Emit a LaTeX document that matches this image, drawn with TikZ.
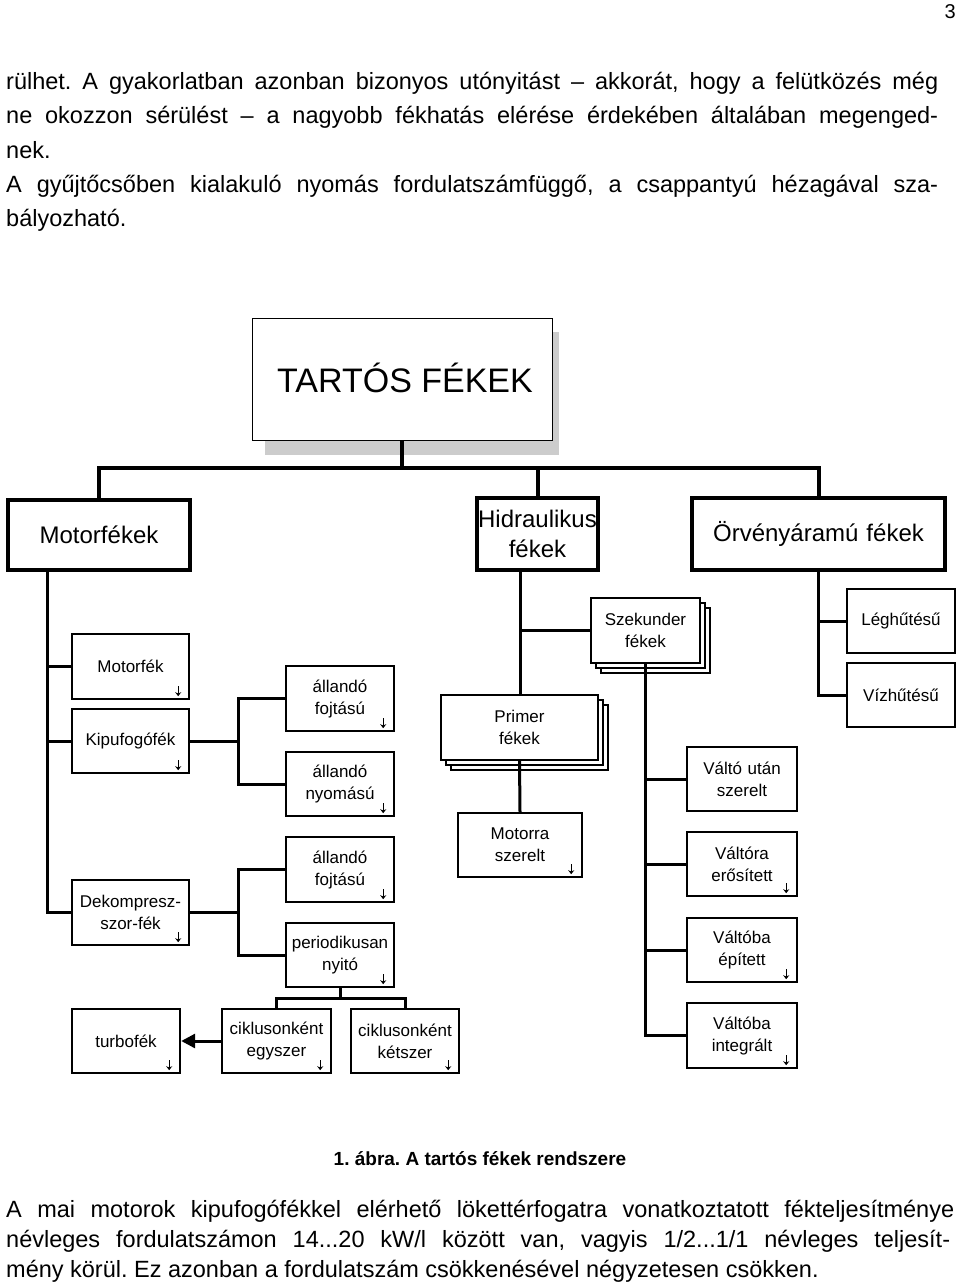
\documentclass[tikz,border=0pt]{standalone}
\usepackage{fontspec}
\setmainfont{Liberation Sans}
\usetikzlibrary{arrows.meta,calc}
\begin{document}
\frenchspacing
\begin{tikzpicture}[x=1pt,y=-1pt,
  box/.style={draw,line width=2.4pt,fill=white,align=center,inner sep=0pt,font=\fontsize{17}{22}\selectfont},
  lbox/.style={box,line width=4pt,font=\fontsize{24}{30}\selectfont},
  con/.style={line width=3pt},
  tcon/.style={line width=4pt},
  body/.style={anchor=west,inner sep=0pt,font=\fontsize{23.5}{26}\selectfont}]
\useasboundingbox (0,0) rectangle (960,1284);
\newcommand\bx[6]{\node[box,minimum width={#4-#2},minimum height={#5-#3},text width={#4-#2-4}] (#1) at ({(#2+#4)/2},{(#3+#5)/2}) {#6};}
\newcommand\lbx[6]{\node[lbox,minimum width={#4-#2},minimum height={#5-#3},text width={#4-#2}] (#1) at ({(#2+#4)/2},{(#3+#5)/2}) {#6};}
\newcommand\darr[1]{\draw[-{Stealth[length=4pt,width=6pt]},line width=1.2pt] ([xshift=-12pt,yshift=14pt]#1.south east) -- ([xshift=-12pt,yshift=4pt]#1.south east);}
\newcommand\stk[4]{\draw[line width=2.4pt,fill=white] (#1+10,#2+10) rectangle (#3+10,#4+10); \draw[line width=2.4pt,fill=white] (#1+5,#2+5) rectangle (#3+5,#4+5);}
% page text
\node[anchor=north east,inner sep=0pt,font=\fontsize{20}{24}\selectfont] (pg) at (956,4) {3};
\node[body] (t1) at (6,83) {\makebox[932pt][s]{rülhet. A gyakorlatban azonban bizonyos utónyitást – akkorát, hogy a felütközés még}};
\node[body] (t2) at (6,117) {\makebox[932pt][s]{ne okozzon sérülést – a nagyobb fékhatás elérése érdekében általában megenged-}};
\node[body] (t3) at (6,150) {nek.};
\node[body] (t4) at (6,186) {\makebox[932pt][s]{A gyűjtőcsőben kialakuló nyomás fordulatszámfüggő, a csappantyú hézagával sza-}};
\node[body] (t5) at (6,220) {bályozható.};
\node[inner sep=0pt,font=\bfseries\fontsize{19}{22}\selectfont] (cap) at (480,1159) {1. ábra. A tartós fékek rendszere};
\node[body] (b1) at (6,1211) {\makebox[948pt][s]{A mai motorok kipufogófékkel elérhető lökettérfogatra vonatkoztatott fékteljesítménye}};
\node[body] (b2) at (6,1241) {\makebox[944pt][s]{névleges fordulatszámon 14...20 kW/l között van, vagyis 1/2...1/1 névleges teljesít-}};
\node[body] (b3) at (6,1271) {mény körül. Ez azonban a fordulatszám csökkenésével négyzetesen csökken.};
% top
\fill[gray!40] (265,332) rectangle (559,455);
\node[draw,line width=0.8pt,fill=white,minimum width=300,minimum height=122,inner sep=0pt] (top) at (402,379) {};
\node[font=\fontsize{34}{40}\selectfont,inner sep=0pt] (toptx) at (405,378) {TARTÓS FÉKEK};
\lbx{mfk}{8}{500}{190}{570}{Motorfékek}
\lbx{hid}{477}{498}{598}{570}{Hidraulikus\\fékek}
\lbx{orv}{692}{498}{945}{570}{Örvényáramú fékek}
\draw[tcon] (top.south) -- ++(0,28) coordinate (h);
\draw[tcon] (mfk.north) |- (h) -| (orv.north);
\draw[tcon] (hid.north) -- (hid.north |- h);
% motorfekek branch
\bx{mot}{72}{634}{189}{699}{Motorfék}
\bx{kip}{72}{709}{189}{773}{Kipufogófék}
\bx{dek}{72}{880}{189}{945}{Dekompresz-\\szor-fék}
\bx{af1}{286}{666}{394}{731}{állandó\\fojtású}
\bx{an1}{286}{752}{394}{816}{állandó\\nyomású}
\bx{af2}{286}{837}{394}{902}{állandó\\fojtású}
\bx{per}{286}{923}{394}{987}{periodikusan\\nyitó}
\bx{turb}{72}{1009}{180}{1073}{turbofék}
\bx{egy}{222}{1009}{331}{1073}{ciklusonként\\egyszer}
\bx{ket}{351}{1009}{459}{1073}{ciklusonként\\kétszer}
\coordinate (mv) at (47,570);
\draw[con] (mv) |- (dek.west);
\draw[con] (mot.west) -- (mot.west -| mv);
\draw[con] (kip.west) -- (kip.west -| mv);
\draw[con] (kip.east) -- ++(48,0) coordinate (k1);
\draw[con] (af1.west) -| (k1) |- (an1.west);
\draw[con] (dek.east) -- ++(48,0) coordinate (k2);
\draw[con] (af2.west) -| (k2) |- (per.west);
\draw[con] (per.south) -- ++(0,10) coordinate (k3);
\draw[con] (egy.north) |- (k3) -| (ket.north);
\draw[con,-{Triangle[length=14pt,width=14pt]}] (egy.west) -- (turb.east);
% hidraulikus branch
\coordinate (hv) at (520,570);
\stk{591}{598}{700}{663}
\bx{szek}{591}{598}{700}{663}{Szekunder\\fékek}
\stk{441}{695}{598}{760}
\bx{prim}{441}{695}{598}{760}{Primer\\fékek}
\bx{motsz}{458}{813}{582}{877}{Motorra\\szerelt}
\draw[con] (hv) -- (prim.north -| hv);
\draw[con] (szek.west) -- (szek.west -| hv);
\draw[con] (prim.south) -- (motsz.north);
\bx{v1}{687}{747}{797}{811}{Váltó után\\szerelt}
\bx{v2}{687}{832}{797}{896}{Váltóra\\erősített}
\bx{v3}{687}{918}{797}{982}{Váltóba\\épített}
\bx{v4}{687}{1003}{797}{1068}{Váltóba\\integrált}
\coordinate (sv) at (645,663);
\draw[con] (sv) |- (v4.west);
\draw[con] (v1.west) -- (v1.west -| sv);
\draw[con] (v2.west) -- (v2.west -| sv);
\draw[con] (v3.west) -- (v3.west -| sv);
% orveny branch
\bx{leg}{847}{589}{955}{653}{Léghűtésű}
\bx{viz}{847}{663}{955}{727}{Vízhűtésű}
\draw[con] (orv.south) |- (viz.west);
\draw[con] (leg.west) -- (leg.west -| orv.south);
% small arrows
\darr{mot}\darr{kip}\darr{dek}\darr{af1}\darr{an1}\darr{af2}\darr{per}
\darr{turb}\darr{egy}\darr{ket}\darr{motsz}\darr{v2}\darr{v3}\darr{v4}
\end{tikzpicture}
\end{document}
